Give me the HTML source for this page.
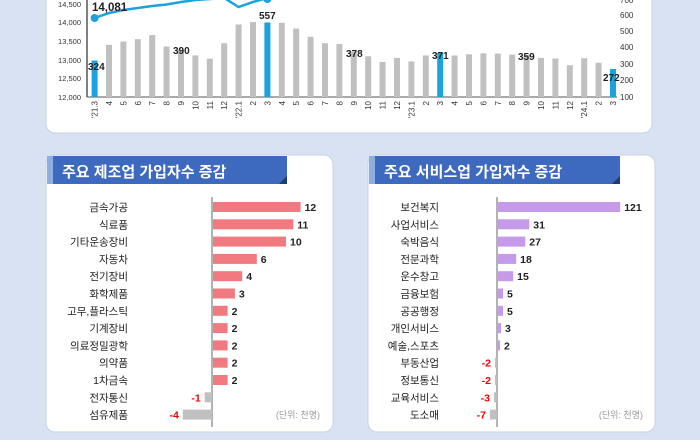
<!DOCTYPE html>
<html><head><meta charset="utf-8"><style>
body{margin:0;background:#d9e2f3;}
svg{display:block;font-family:"Liberation Sans","Noto Sans CJK KR",sans-serif;}
</style></head><body>
<svg width="700" height="440" viewBox="0 0 700 440">
<rect width="700" height="440" fill="#d9e2f3"/>
<rect x="46" y="-20" width="606" height="153" rx="9" fill="#fff" stroke="#c8d2e4"/>
<g font-size="7.5" fill="#333" text-anchor="end">
<text x="81" y="7">14,500</text><text x="81" y="25">14,000</text><text x="81" y="44">13,500</text>
<text x="81" y="63">13,000</text><text x="81" y="81">12,500</text><text x="81" y="100">12,000</text>
</g>
<g font-size="8" fill="#333">
<text x="620" y="3">700</text><text x="620" y="18">600</text><text x="620" y="34">500</text><text x="620" y="50">400</text>
<text x="620" y="67">300</text><text x="620" y="83">200</text><text x="620" y="100">100</text>
</g>
<line x1="87" y1="0" x2="87" y2="97" stroke="#000" stroke-width="1"/>
<line x1="87" y1="97" x2="617" y2="97" stroke="#555" stroke-width="1"/>
<g id="bars"></g>
<polyline fill="none" stroke="#1aa3dd" stroke-width="2.5" points="94.6,18 109,13 123.4,10 137.8,8 152.2,6 166.6,4.5 181,2 195.4,0 209.8,-1 224.2,-2 238.6,7 253,2 267.4,-2"/>
<circle cx="94.6" cy="18" r="4" fill="#1aa3dd"/>
<circle cx="267.4" cy="-1" r="4" fill="#1aa3dd"/>
<g font-size="10" font-weight="bold" fill="#222">
<text x="92" y="11" font-size="11.5">14,081</text>
<text x="88" y="70">324</text><text x="173" y="54">390</text><text x="259" y="19">557</text>
<text x="346" y="57">378</text><text x="432" y="59">371</text><text x="518" y="60">359</text><text x="603" y="81">272</text>
</g>
<g id="xl" font-size="8" fill="#333"></g>
<rect x="46" y="155" width="287" height="277" rx="9" fill="#fff" stroke="#c8d2e4"/>
<rect x="47" y="156" width="240" height="28" fill="#3d69bf"/>
<rect x="47" y="156" width="6" height="28" fill="#8eaee0"/>
<polygon points="279,184 287,176 287,184" fill="#1f3b73"/>
<text x="62" y="177" font-size="15" font-weight="bold" fill="#fff">주요 제조업 가입자수 증감</text>
<line x1="212" y1="197" x2="212" y2="427" stroke="#666"/>
<g id="lp"></g>
<text x="320" y="418" font-size="9" fill="#999" text-anchor="end">(단위: 천명)</text>
<rect x="368" y="155" width="287" height="277" rx="9" fill="#fff" stroke="#c8d2e4"/>
<rect x="369" y="156" width="251" height="28" fill="#3d69bf"/>
<rect x="369" y="156" width="6" height="28" fill="#8eaee0"/>
<polygon points="612,184 620,176 620,184" fill="#1f3b73"/>
<text x="384" y="177" font-size="15" font-weight="bold" fill="#fff">주요 서비스업 가입자수 증감</text>
<line x1="497" y1="197" x2="497" y2="427" stroke="#666"/>
<g id="rp"></g>
<text x="643" y="418" font-size="9" fill="#999" text-anchor="end">(단위: 천명)</text>
</svg>
<script>
var NS="http://www.w3.org/2000/svg";
function el(p,t,a,txt){var e=document.createElementNS(NS,t);for(var k in a)e.setAttribute(k,a[k]);if(txt!=null)e.textContent=txt;document.getElementById(p).appendChild(e);}
var v=[324,420,440,455,480,410,390,355,335,430,545,560,557,555,520,470,430,425,378,350,315,340,318,355,371,355,362,368,366,360,359,340,336,295,338,310,272];
var lb=["'21.3","4","5","6","7","8","9","10","11","12","'22.1","2","3","4","5","6","7","8","9","10","11","12","'23.1","2","3","4","5","6","7","8","9","10","11","12","'24.1","2","3"];
v.forEach(function(d,i){var x=94.6+i*14.4,y=97-(d-100)*0.163;var blue=(i%12==0);
el("bars","rect",{x:x-3,y:y,width:6,height:97-y,fill:blue?"#1aa3dd":"#c0c0c0"});
el("xl","text",{transform:"translate("+(x+3)+",101) rotate(-90)","text-anchor":"end"},lb[i]);});
function panel(id,ax,lx,sc,col,data){data.forEach(function(d,i){var y=207+i*17.3;
el(id,"text",{x:lx,y:y+4,"font-size":"10.5",fill:"#222","text-anchor":"end"},d[0]);
var w=Math.abs(d[1])*sc;var neg=d[1]<0;
el(id,"rect",{x:neg?ax-w:ax+1,y:y-5,width:w,height:10,fill:neg?"#c0c0c0":col});
el(id,"text",{x:neg?ax-w-4:ax+w+5,y:y+4,"font-size":"10.5","font-weight":"bold",fill:neg?"#e00":"#222","text-anchor":neg?"end":"start"},d[1]);});}
panel("lp",212,128,7.3,"#f07a80",[["금속가공",12],["식료품",11],["기타운송장비",10],["자동차",6],["전기장비",4],["화학제품",3],["고무,플라스틱",2],["기계장비",2],["의료정밀광학",2],["의약품",2],["1차금속",2],["전자통신",-1],["섬유제품",-4]]);
panel("rp",497,439,1.01,"#c59ae8",[["보건복지",121],["사업서비스",31],["숙박음식",27],["전문과학",18],["운수창고",15],["금융보험",5],["공공행정",5],["개인서비스",3],["예술,스포츠",2],["부동산업",-2],["정보통신",-2],["교육서비스",-3],["도소매",-7]]);
</script>
</body></html>
